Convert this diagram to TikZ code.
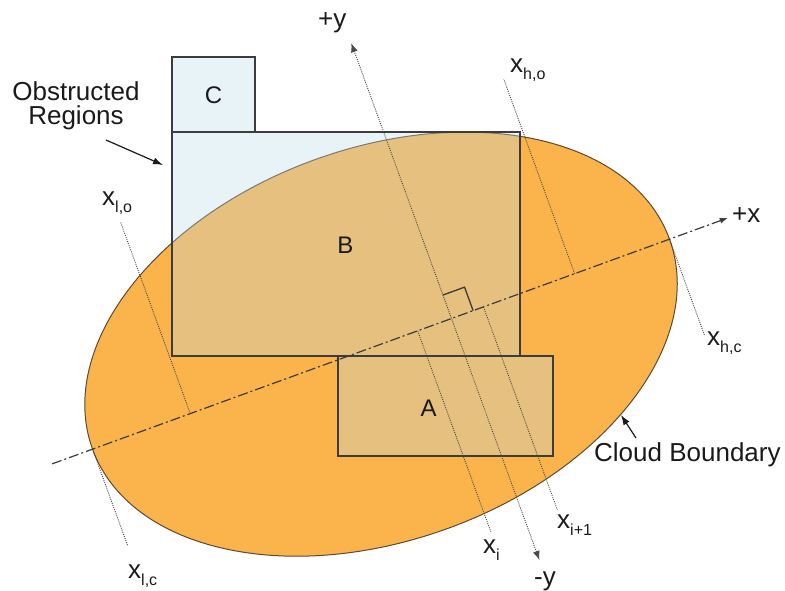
\documentclass[tikz,border=0pt]{standalone}
\usepackage{fontspec}
\setmainfont{Liberation Sans}
\usetikzlibrary{arrows.meta,positioning,calc}
\definecolor{CloudOrange}{HTML}{FBB44C}
\definecolor{CloudEdge}{HTML}{5C4A32}
\definecolor{BoxBlue}{HTML}{B9DAE9}
\definecolor{EdgeGray}{HTML}{3C3C3C}
\definecolor{GuideGray}{HTML}{4A4A4A}
\definecolor{Ink}{HTML}{1A1A1A}
\newcommand{\xsub}[1]{x\raisebox{-7pt}{\fontsize{16}{16}\selectfont #1}}
\tikzset{
  cloud/.style={draw=CloudEdge, line width=1pt, fill=CloudOrange},
  region/.style={draw=EdgeGray, line width=1.2pt, fill=BoxBlue, fill opacity=0.33, draw opacity=1, inner sep=0pt, outer sep=0pt, anchor=north west},
  axisline/.style={draw=EdgeGray, line width=1.2pt, dash pattern=on 10pt off 3pt on 2pt off 3pt, -{Latex[length=8pt,width=6pt]}},
  yaxisline/.style={draw=GuideGray, dash pattern=on 1pt off 1.2pt, line width=0.9pt, {Latex[length=9pt,width=7pt]}-{Latex[length=9pt,width=7pt]}},
  guide/.style={draw=GuideGray, dash pattern=on 1pt off 1.2pt, line width=0.9pt},
  rightmark/.style={draw=EdgeGray, line width=1.3pt},
  pointer/.style={-{Latex[length=10pt,width=7pt]}, line width=1.2pt, draw=Ink},
  biglabel/.style={font=\fontsize{26}{24}\selectfont, text=Ink, inner sep=0pt},
  boxlabel/.style={font=\fontsize{24}{24}\selectfont, text=Ink, inner sep=0pt}
}

\begin{document}
\begin{tikzpicture}[x=1pt, y=-1pt]
  \useasboundingbox (0,0) rectangle (785,590);

  % cloud and its axes, in the rotated frame
  \begin{scope}[shift={(451.5,318.5)}, rotate=20, y=1pt]
    \draw[cloud] (-75,0) ellipse [x radius=307pt, y radius=196pt];
    \coordinate (xneg) at (-425,0);
    \coordinate (xpos) at (294,0);
    \coordinate (ypos) at (0,293);
    \coordinate (yneg) at (0,-257);
    \coordinate (loTop) at (-278,204);
    \coordinate (loFoot) at (-278,0);
    \coordinate (lcFoot) at (-382,0);
    \coordinate (lcEnd) at (-382,-103);
    \coordinate (hoTop) at (131,207);
    \coordinate (hoFoot) at (131,0);
    \coordinate (hcFoot) at (232,0);
    \coordinate (hcEnd) at (232,-102);
    \coordinate (iFoot) at (-36,0);
    \coordinate (iEnd) at (-36,-214);
    \coordinate (ioneFoot) at (34,0);
    \coordinate (ioneEnd) at (34,-216);
    \coordinate (raA) at (0,25);
    \coordinate (raB) at (23,25);
    \coordinate (raC) at (23,0);
  \end{scope}

  % obstructed regions
  \node[region, minimum width=83pt, minimum height=75pt] (regionC) at (172,57) {};
  \node[region, minimum width=348pt, minimum height=224pt] (regionB) at (172,132) {};
  \node[region, minimum width=215pt, minimum height=100pt] (regionA) at (338,356) {};

  \node[boxlabel] (labC) at (213.5,95) {C};
  \node[boxlabel] (labB) at (345.5,245) {B};
  \node[boxlabel] (labA) at (428.5,408) {A};

  % guide lines
  \draw[guide] (loFoot) -- (loTop);
  \draw[guide] (lcFoot) -- (lcEnd);
  \draw[guide] (hoFoot) -- (hoTop);
  \draw[guide] (hcFoot) -- (hcEnd);
  \draw[guide] (iFoot) -- (iEnd);
  \draw[guide] (ioneFoot) -- (ioneEnd);

  % axes
  \draw[axisline] (xneg) -- (xpos);
  \draw[yaxisline] (yneg) -- (ypos);
  \draw[rightmark] (raA) -- (raB) -- (raC);

  % labels
  \node[biglabel, anchor=base west] (labYpos) at (318,27.5) {+y};
  \node[biglabel, anchor=base west] (labYneg) at (534,585) {-y};
  \node[biglabel, anchor=base west] (labXpos) at (732,222) {+x};
  \node[biglabel, anchor=base west] (labHO) at (510,72) {\xsub{h,o}};
  \node[biglabel, anchor=base west] (labLO) at (102,205) {\xsub{l,o}};
  \node[biglabel, anchor=base west] (labHC) at (707,345) {\xsub{h,c}};
  \node[biglabel, anchor=base west] (labLC) at (128,578) {\xsub{l,c}};
  \node[biglabel, anchor=base west] (labI) at (483,553) {\xsub{i}};
  \node[biglabel, anchor=base west] (labIone) at (557,528) {\xsub{i+1}};

  \node[biglabel, align=center] (obstructed) at (76,105.8) {Obstructed\\Regions};
  \node[biglabel, anchor=base west] (boundary) at (594,461.5) {Cloud Boundary};

  \coordinate (obsTail) at (106,140);
  \coordinate (obsTip) at (163,165);
  \coordinate (cloudTail) at (636,438);
  \coordinate (cloudTip) at (621,415);
  \draw[pointer] (obsTail) -- (obsTip);
  \draw[pointer] (cloudTail) -- (cloudTip);
\end{tikzpicture}
\end{document}
